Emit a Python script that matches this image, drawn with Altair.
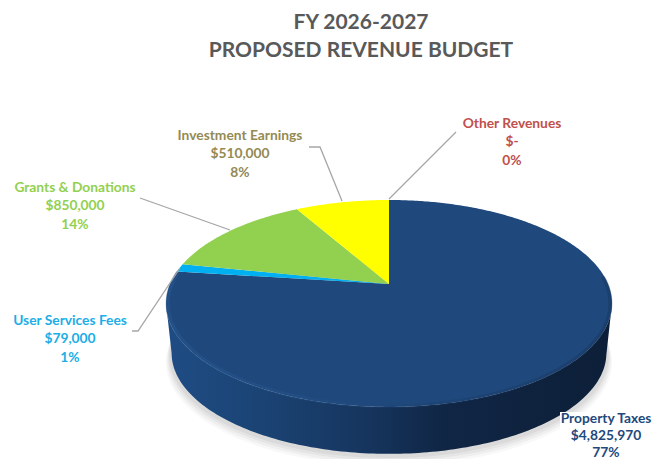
import numpy as np
import pandas as pd
import altair as alt

categories = ["Property Taxes", "User Services Fees", "Grants & Donations", "Investment Earnings", "Other Revenues"]
values = [4825970, 79000, 850000, 510000, 0]
money = ["$4,825,970", "$79,000", "$850,000", "$510,000", "$-"]
percents = ["77%", "1%", "14%", "8%", "0%"]
slice_colors = ["#1F497D", "#00B0F0", "#92D050", "#FFFF00", "#C0504D"]
label_colors = ["#1F497D", "#1CAEE6", "#92D050", "#948A54", "#C0504D"]
label_x = [598, 62, 67, 232, 504]
label_y = [411, 313, 180, 128, 116]
label_step = [17, 18.3, 18.3, 18.3, 18.3]
title_lines = ["FY 2026-2027", "PROPOSED REVENUE BUDGET"]

OX, OY = 8, 8
A, B, K, CX, CY = 219.0, 99.8, 0.188, 389.0, 284.0


def pts(theta_deg, scale=1.0, cy=CY, cx=CX):
    t = np.radians(np.asarray(theta_deg, dtype=float))
    u, v = np.sin(t), np.cos(t)
    w = 1 + K * v
    return np.column_stack([cx + scale * A * u / w - OX, cy - scale * B * v / w - OY]).tolist()


def feat(kind, coords):
    geom = {"type": kind, "coordinates": [coords] if kind == "Polygon" else coords}
    return {"type": "Feature", "properties": {}, "geometry": geom}


def shape(feature, **mark):
    return alt.Chart(alt.Data(values=[feature])).mark_geoshape(**mark).project(type="identity", scale=1, translate=[0, 0])


def grad(stops):
    return alt.LinearGradient(
        gradient="linear", x1=0, x2=1, y1=0, y2=0,
        stops=[alt.GradientStop(color=c, offset=o) for o, c in stops],
    )


layers = []
ring = np.linspace(0, 360, 241)

# soft shadow under the drum
for sc, dy, op in [(1.0, 9, 0.04), (0.995, 7, 0.05), (0.99, 5, 0.06), (0.985, 3, 0.08)]:
    layers.append(shape(feat("Polygon", pts(ring, sc, 334 + dy)), fill="#555555", fillOpacity=op, strokeWidth=0))

# drum wall
ta = np.degrees(np.arccos(-K))
front = np.linspace(ta, 360 - ta, 160)
wall = pts(front) + pts(front[::-1], 0.975, 334)
layers.append(shape(feat("Polygon", wall), strokeWidth=0, fill=grad([
    (0.0, "#1E4C84"), (0.2, "#1B4475"), (0.45, "#16355E"), (0.62, "#102645"), (1.0, "#0D1F38")])))

# slices, angles taken from the values
total = sum(values)
edges = np.concatenate([[0], np.cumsum(values)]) / total * 360
apex = [CX - OX, CY - OY]
for i, cat in enumerate(categories):
    if values[i] == 0:
        continue
    th = np.linspace(edges[i], edges[i + 1], max(3, int((edges[i + 1] - edges[i]) * 1.5)))
    layers.append(shape(feat("Polygon", [apex] + pts(th) + [apex]), fill=slice_colors[i], strokeWidth=0))

# bevel on the top rim
rim = np.linspace(ta - 15, 277, 160)
layers.append(shape(feat("LineString", pts(rim, 0.993)), filled=False, strokeWidth=4, strokeOpacity=0.3, stroke=grad([
    (0.0, "#2C619F"), (0.3, "#27578F"), (0.6, "#193A66"), (1.0, "#12294A")])))

# leader lines
leaders = [
    [(132, 331), (138, 331), (180, 268)],
    [(140, 198), (230, 230)],
    [(309, 147), (320, 147), (342, 201)],
    [(389, 199), (456, 132)],
]
for ln in leaders:
    layers.append(shape(feat("LineString", [[x - OX, y - OY] for x, y in ln]), filled=False, stroke="#A6A6A6", strokeWidth=1.3))

# white plate behind the bottom label
layers.append(alt.Chart(pd.DataFrame({"a": [0]})).mark_rect(fill="white").encode(
    x=alt.value(552), x2=alt.value(644), y=alt.value(404), y2=alt.value(451)))

# labels
rows = []
for i, cat in enumerate(categories):
    for j, txt in enumerate([cat, money[i], percents[i]]):
        rows.append({"t": txt, "px": label_x[i], "py": label_y[i] + j * label_step[i], "c": label_colors[i]})
layers.append(alt.Chart(pd.DataFrame(rows)).mark_text(font="Lato", fontWeight="bold", fontSize=13.8, align="center", baseline="middle").encode(
    text="t:N",
    x=alt.X("px:Q", scale=None),
    y=alt.Y("py:Q", scale=None),
    color=alt.Color("c:N", scale=None),
))

# title
trows = [{"t": t, "px": 353, "py": 15 + 28 * i} for i, t in enumerate(title_lines)]
layers.append(alt.Chart(pd.DataFrame(trows)).mark_text(font="Lato", fontWeight="bold", fontSize=21, align="center", baseline="middle", color="#595959").encode(
    text="t:N",
    x=alt.X("px:Q", scale=None),
    y=alt.Y("py:Q", scale=None),
))

chart = alt.layer(*layers).properties(
    width=644, height=451, padding=0, background="white",
    autosize=alt.AutoSizeParams(type="none"),
).configure_view(stroke=None)
chart.save("out.html", embed_options={"renderer": "svg", "actions": False})
